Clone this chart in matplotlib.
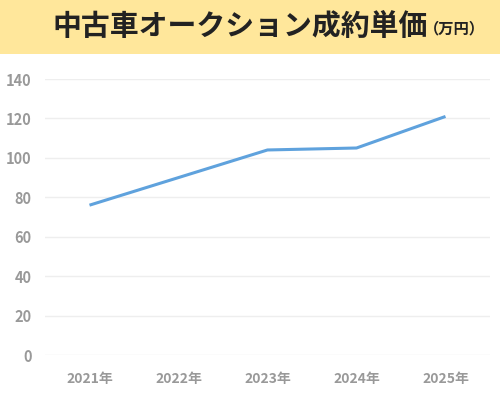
import matplotlib
matplotlib.use("Agg")
import matplotlib.pyplot as plt

plt.rcParams['font.family'] = ['Noto Sans CJK JP', 'DejaVu Sans']

# データ
years = ["2021年", "2022年", "2023年", "2024年", "2025年"]
prices = [76, 90, 104, 105, 121]  # 万円
yticks = [0, 20, 40, 60, 80, 100, 120, 140]

fig = plt.figure(figsize=(5, 3.96), dpi=100)
fig.patch.set_facecolor("white")

# タイトル帯
band = fig.add_axes([0, 1 - 54 / 396, 1, 54 / 396])
band.set_facecolor("#FFE79B")
band.set_xticks([])
band.set_yticks([])
for s in band.spines.values():
    s.set_visible(False)

fig.text(0.104, 1 - 26 / 396, "中古車オークション成約単価", fontsize=20.8,
         fontweight="bold", color="#222222", va="center", ha="left")
fig.text(0.848, 1 - 28 / 396, "（万円）", fontsize=11,
         fontweight="bold", color="#222222", va="center", ha="left")

ax = fig.add_axes([45 / 500, 1 - 355 / 396, 445 / 500, 276 / 396])
x = range(len(years))
ax.plot(x, prices, color="#5FA2DD", linewidth=2.2, solid_capstyle="butt")

ax.set_xlim(-0.5, len(years) - 0.5)
ax.set_ylim(0, 140)
ax.set_yticks(yticks)
ax.set_xticks(list(x))
ax.set_xticklabels(years)
ax.grid(axis="y", color="#EEEEEE", linewidth=1)
ax.set_axisbelow(True)
for s in ax.spines.values():
    s.set_visible(False)
ax.tick_params(length=0, labelcolor="#999999")
ax.tick_params(axis="y", pad=9.5, labelsize=10.5)
ax.tick_params(axis="x", pad=12, labelsize=10)
for lbl in ax.get_xticklabels() + ax.get_yticklabels():
    lbl.set_fontweight("bold")

fig.savefig("out.png", dpi=100)
